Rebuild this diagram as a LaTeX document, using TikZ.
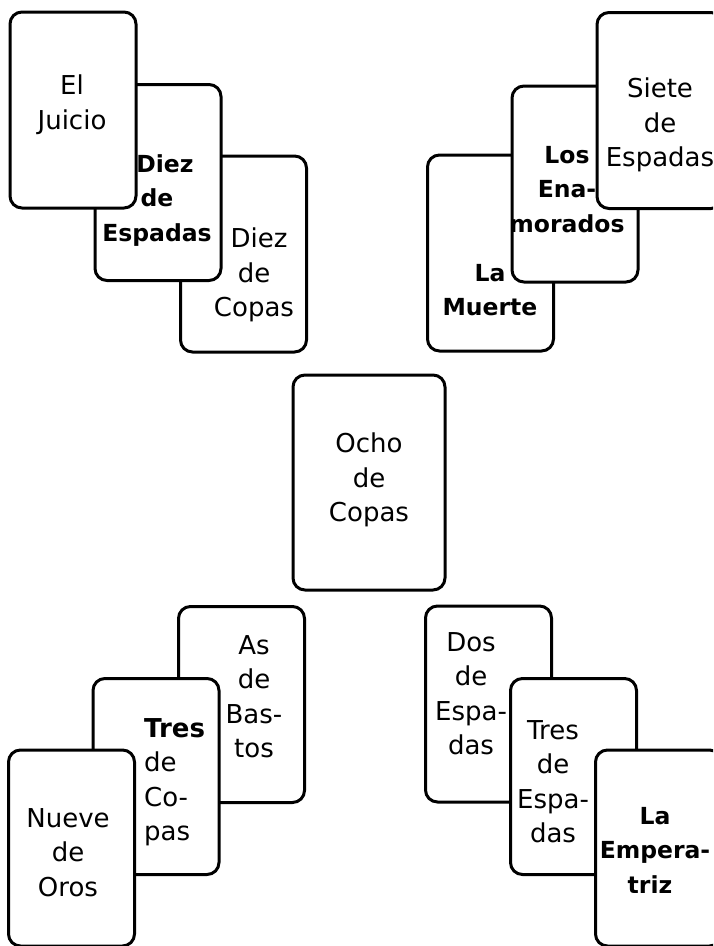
\documentclass[tikz,border=0pt]{standalone}
\usepackage{fontspec}
\setmainfont{DejaVu Sans}
\begin{document}
\begin{tikzpicture}[x=1pt,y=-1pt,
  card/.style={draw=black, line width=3pt, fill=white, rounded corners=12pt,
    minimum width=126pt, minimum height=196pt, inner sep=0pt},
  bigcard/.style={card, minimum width=152pt, minimum height=215pt},
  lbl/.style={anchor=north, align=center, inner sep=0pt, text=black,
    font=\fontsize{26}{34.5}\selectfont},
  blbl/.style={lbl, font=\bfseries\fontsize{23.5}{34.5}\selectfont}]
\path[use as bounding box] (0,0) rectangle (713,946);
\clip (0,0) rectangle (713,946);
% top-left group
\node[card] (diezcop) at (243.5,254) {};
\node[card] (diezesp) at (158,182.5) {};
\node[card] (juicio)  at (73,110) {};
% top-right group
\node[card] (muerte) at (490.5,253) {};
\node[card] (enamor) at (575,184) {};
\node[card] (siete)  at (660,110.5) {};
% centre
\node[bigcard] (ocho) at (369,482.5) {};
% bottom-left group
\node[card] (as)      at (241.5,704.5) {};
\node[card] (trescop) at (156,776.5) {};
\node[card] (nueve)   at (71.5,848) {};
% bottom-right group
\node[card] (dosesp)  at (488.5,704) {};
\node[card] (tresesp) at (573.5,776.5) {};
\node[card] (emper)   at (658.5,848) {};
% labels
\node[lbl]  (tjuicio)  at (72,75)   {El\\Juicio};
\node[blbl] (tdiezesp) at (157,154) {\hspace*{16pt}Diez\\de\hspace*{8pt}\\Espadas};
\node[lbl]  (tdiezcop) at (254,228) {\hspace*{10pt}Diez\\de\\Copas};
\node[blbl] (tmuerte)  at (490,264) {La\\Muerte};
\node[blbl] (tenamor)  at (567,146) {Los\\Ena-\\morados};
\node[lbl]  (tsiete)   at (660,78)  {Siete\\de\\Espadas};
\node[lbl]  (tocho)    at (369,433) {Ocho\\de\\Copas};
\node[lbl]  (tas)      at (254,635) {As\\de\\Bas-\\tos};
\node[lbl, anchor=north west, align=left] (ttrescop) at (144,718) {{\bfseries Tres}\\de\\Co-\\pas};
\node[lbl]  (tnueve)   at (68,808)  {Nueve\\de\\Oros};
\node[lbl]  (tdosesp)  at (471,632) {Dos\\de\\Espa-\\das};
\node[lbl]  (ttresesp) at (553,720) {Tres\\de\\Espa-\\das};
\node[blbl] (temper)   at (655,807) {La\\Empera-\\triz\hspace*{10pt}};
\end{tikzpicture}
\end{document}
